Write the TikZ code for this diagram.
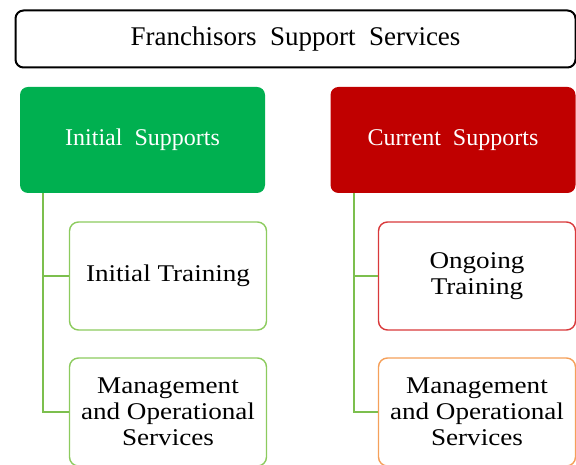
\documentclass[tikz,border=0pt]{standalone}
\usepackage{fontspec}
\setmainfont{Liberation Serif}
\newfontfamily\widefont[FakeStretch=1.13]{Liberation Serif}
\usetikzlibrary{positioning}
\definecolor{topgreen}{HTML}{00B050}
\definecolor{topred}{HTML}{C00000}
\definecolor{leafgreen}{HTML}{8CCB5E}
\definecolor{leafred}{HTML}{D9393B}
\definecolor{leaforange}{HTML}{F5A05A}
\definecolor{linegreen}{HTML}{7CBF4E}

\begin{document}
\begin{tikzpicture}[x=1pt, y=1pt, semithick]
\tikzstyle{head}=[draw=black, line width=2pt, rounded corners=8pt, minimum width=560pt, minimum height=57pt, font=\fontsize{27}{30}\selectfont]
\tikzstyle{group}=[rounded corners=8pt, minimum width=245pt, minimum height=106pt, text=white, font=\fontsize{24}{26}\selectfont]
\tikzstyle{leaf}=[draw, line width=1.4pt, fill=white, rounded corners=9pt, minimum width=197pt, minimum height=108pt, align=center, font=\widefont\fontsize{24}{26}\selectfont]
\tikzstyle{link}=[draw=linegreen, line width=1.4pt]
\useasboundingbox (0,0) rectangle (576,465);
\node[head]  (F) at (295.5,426) {Franchisors~ Support~ Services};
\node[group, fill=topgreen] (I) at (142.5,325) {Initial~ Supports};
\node[group, fill=topred]   (C) at (453,325)   {Current~ Supports};
\node[leaf, draw=leafgreen]  (IT) at (168,189) {Initial Training};
\node[leaf, draw=leafgreen]  (IM) at (168,53)  {Management\\and Operational\\Services};
\node[leaf, draw=leafred]    (OT) at (477,189) {Ongoing\\Training};
\node[leaf, draw=leaforange] (CM) at (477,53)  {Management\\and Operational\\Services};
\coordinate (i0) at (43,0 |- I.south);
\coordinate (c0) at (354,0 |- C.south);
\path[link]
(I.south -| i0) |- (IT.west)
(I.south -| i0) |- (IM.west)
(C.south -| c0) |- (OT.west)
(C.south -| c0) |- (CM.west);
\end{tikzpicture}
\end{document}
